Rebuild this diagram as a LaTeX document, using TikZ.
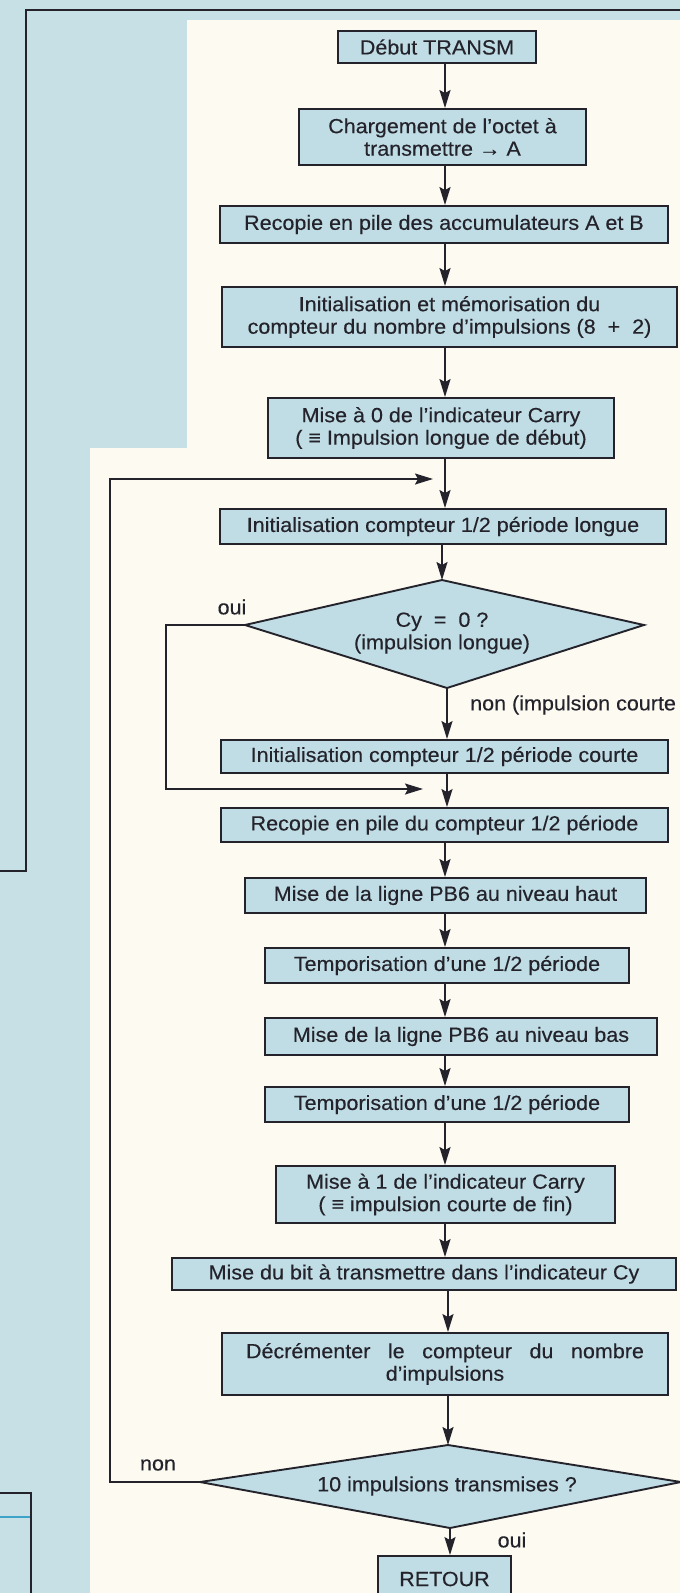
\documentclass[tikz,border=0pt]{standalone}
\usepackage{fontspec}
\setmainfont[FakeStretch=1.05,FakeBold=0.3]{Liberation Sans}
\usetikzlibrary{arrows.meta}
\definecolor{bgblue}{HTML}{C6E0E5}
\definecolor{paper}{HTML}{FCFAF1}
\definecolor{boxfill}{HTML}{C0DDE5}
\definecolor{ink}{HTML}{24232B}
\definecolor{accent}{HTML}{3EA3C9}
\tikzset{
  procbox/.style={draw=ink, fill=boxfill, line width=1.9pt, inner sep=0pt, align=center,
    font=\fontsize{20.5}{22.5}\selectfont, text=ink},
  decide/.style={draw=ink, fill=boxfill, line width=1.9pt, line join=miter},
  flow/.style={draw=ink, line width=1.6pt, -{Stealth[length=18pt,width=11pt,inset=3pt]}},
  frameline/.style={draw=ink, line width=1.5pt},
  lbl/.style={font=\fontsize{20.5}{22.5}\selectfont, text=ink, inner sep=0pt, align=center}
}
\begin{document}
\begin{tikzpicture}[x=1pt,y=-1pt]
\useasboundingbox (0,0) rectangle (680,1593);
\clip (0,0) rectangle (680,1593);
% background
\fill[bgblue] (0,0) rectangle (680,1593);
\fill[paper] (187,20) -- (680,20) -- (680,1593) -- (90,1593) -- (90,448) -- (187,448) -- cycle;
\draw[frameline] (0,871) -- (26,871) -- (26,10) -- (680,10);
\draw[frameline] (0,1493) -- (31,1493) -- (31,1600);
\draw[accent, line width=2pt] (0,1517) -- (30,1517);

% helper coordinates
\coordinate (mx) at (445,0);
\coordinate (lx) at (110,0);
\coordinate (ox) at (166,0);
\coordinate (joinA) at (433,479);
\coordinate (joinB) at (423,789);

% boxes
\node[procbox, minimum width=198pt, minimum height=32pt] (debut) at (437,47) {Début TRANSM};
\node[procbox, minimum width=287pt, minimum height=56pt] (charg) at (442.5,137) {Chargement de l'octet à\\transmettre → A};
\node[procbox, minimum width=448pt, minimum height=37pt] (recab) at (444,224.5) {Recopie en pile des accumulateurs A et B};
\node[procbox, minimum width=455pt, minimum height=60pt] (initmem) at (449.5,317) {Initialisation et mémorisation du\\compteur du nombre d'impulsions (8 \ + \ 2)};
\node[procbox, minimum width=346pt, minimum height=60pt] (mise0) at (441,428) {Mise à 0 de l'indicateur Carry\\( ≡ Impulsion longue de début)};
\node[procbox, minimum width=446pt, minimum height=35pt] (initl) at (443,526.5) {Initialisation compteur 1/2 période longue};

% decision 1
\coordinate (d1l) at (245,625);
\coordinate (d1t) at (442,580);
\coordinate (d1r) at (644,625);
\coordinate (d1b) at (447,688);
\filldraw[decide] (d1l) -- (d1t) -- (d1r) -- (d1b) -- cycle;
\node[lbl] (d1txt) at (442,633) {Cy \ = \ 0 ?\\(impulsion longue)};

\node[procbox, minimum width=447pt, minimum height=33pt] (initc) at (444.5,756.5) {Initialisation compteur 1/2 période courte};
\node[procbox, minimum width=447pt, minimum height=34pt] (recc) at (444.5,825) {Recopie en pile du compteur 1/2 période};
\node[procbox, minimum width=401pt, minimum height=35pt] (pbh) at (445.5,895.5) {Mise de la ligne PB6 au niveau haut};
\node[procbox, minimum width=364pt, minimum height=35pt] (tempa) at (447,965.5) {Temporisation d'une 1/2 période};
\node[procbox, minimum width=392pt, minimum height=37pt] (pbb) at (461,1036.5) {Mise de la ligne PB6 au niveau bas};
\node[procbox, minimum width=364pt, minimum height=35pt] (tempb) at (447,1104.5) {Temporisation d'une 1/2 période};
\node[procbox, minimum width=339pt, minimum height=57pt] (mise1) at (445.5,1194.5) {Mise à 1 de l'indicateur Carry\\( ≡ impulsion courte de fin)};
\node[procbox, minimum width=504pt, minimum height=32pt] (bit) at (424,1274) {Mise du bit à transmettre dans l'indicateur Cy};
\node[procbox, minimum width=446pt, minimum height=62pt] (decr) at (445,1364) {\makebox[398pt][s]{Décrémenter le compteur du nombre}\\d'impulsions};

% decision 2
\coordinate (d2l) at (200,1482);
\coordinate (d2t) at (448,1445);
\coordinate (d2r) at (681,1482);
\coordinate (d2b) at (450,1528);
\filldraw[decide] (d2l) -- (d2t) -- (d2r) -- (d2b) -- cycle;
\node[lbl] (d2txt) at (447,1486) {10 impulsions transmises ?};

\node[procbox, minimum width=133pt, minimum height=46pt] (retour) at (444.5,1579) {RETOUR};

% labels
\node[lbl] (oui1) at (232,607) {oui};
\node[lbl, anchor=west] (non1) at (470,705) {non (impulsion courte};
\node[lbl] (non2) at (158,1465) {non};
\node[lbl] (oui2) at (512,1540) {oui};

% main flow
\draw[flow] (debut.south -| mx) -- (charg.north -| mx);
\draw[flow] (charg.south -| mx) -- (recab.north -| mx);
\draw[flow] (recab.south -| mx) -- (initmem.north -| mx);
\draw[flow] (initmem.south -| mx) -- (mise0.north -| mx);
\draw[flow] (mise0.south -| mx) -- (initl.north -| mx);
\draw[flow] (initl.south -| d1t) -- (d1t);
\draw[flow] (d1b) -- (d1b |- initc.north);
\draw[flow] (initc.south -| d1b) -- (recc.north -| d1b);
\draw[flow] (recc.south -| mx) -- (pbh.north -| mx);
\draw[flow] (pbh.south -| mx) -- (tempa.north -| mx);
\draw[flow] (tempa.south -| mx) -- (pbb.north -| mx);
\draw[flow] (pbb.south -| mx) -- (tempb.north -| mx);
\draw[flow] (tempb.south -| mx) -- (mise1.north -| mx);
\draw[flow] (mise1.south -| mx) -- (bit.north -| mx);
\draw[flow] (bit.south -| d2t) -- (decr.north -| d2t);
\draw[flow] (decr.south -| d2t) -- (d2t);
\draw[flow] (d2b) -- (d2b |- retour.north);

% loops
\draw[flow] (d1l) -| (ox |- joinB) -- (joinB);
\draw[flow] (d2l) -| (lx |- joinA) -- (joinA);
\end{tikzpicture}
\end{document}
